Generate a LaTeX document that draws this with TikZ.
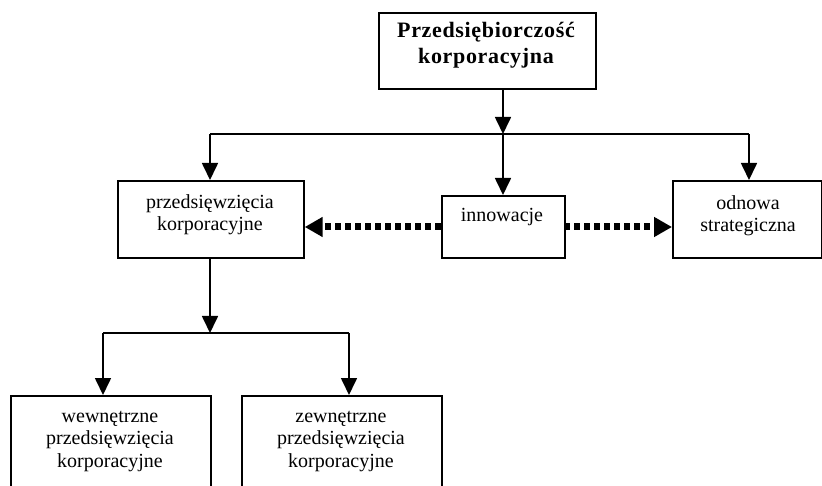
\documentclass[tikz,border=0pt]{standalone}
\usepackage{fontspec}
\setmainfont{Liberation Serif}
\usetikzlibrary{arrows.meta}
\begin{document}
\begin{tikzpicture}[x=1pt,y=-1pt,
 box/.style={draw, line width=1.7pt, inner sep=0pt, anchor=north west},
 txt/.style={font=\fontsize{20}{22.5}\selectfont, align=center, inner sep=0pt, anchor=north},
 boldtxt/.style={font=\fontsize{22}{26}\selectfont\bfseries\addfontfeature{LetterSpace=3}, align=center, inner sep=0pt, anchor=north},
 arr/.style={line width=1.7pt, -{Triangle[length=17pt,width=16pt]}},
 ln/.style={line width=1.7pt},
 dotarr/.style={line width=7pt, dash pattern=on 6pt off 4pt, -{Triangle[length=18pt,width=19pt]}}]
\useasboundingbox (0,0) rectangle (822,486);
\clip (0,0) rectangle (822,486);
% boxes
\node[box, minimum width=217pt, minimum height=76pt] (top) at (378,12) {};
\node[box, minimum width=186pt, minimum height=77pt] (pk) at (117,180) {};
\node[box, minimum width=123pt, minimum height=62pt] (inn) at (441,195) {};
\node[box, minimum width=149pt, minimum height=77pt] (odn) at (672,180) {};
\node[box, minimum width=200pt, minimum height=130pt] (wew) at (10,395) {};
\node[box, minimum width=200pt, minimum height=130pt] (zew) at (241,395) {};
% texts
\node[boldtxt] (ttop) at (486,22) {Przedsiębiorczość\\korporacyjna};
\node[txt] (tpk) at (210,194) {przedsięwzięcia\\korporacyjne};
\node[txt] (tinn) at (502,208) {innowacje};
\node[txt] (todn) at (748,195) {odnowa\\strategiczna};
\node[txt] (twew) at (110,411) {wewnętrzne\\przedsięwzięcia\\korporacyjne};
\node[txt] (tzew) at (341,411) {zewnętrzne\\przedsięwzięcia\\korporacyjne};
% junction coordinates
\coordinate (j0) at (503,134);
\coordinate (jl) at (210,134);
\coordinate (jr) at (749,134);
\coordinate (k0) at (210,333);
\coordinate (kl) at (103,333);
\coordinate (kr) at (349,333);
% connectors
\draw[arr] (top.south -| j0) -- (j0);
\draw[ln] (jl) -- (jr);
\draw[arr] (jl) -- (jl |- pk.north);
\draw[arr] (j0) -- (j0 |- inn.north);
\draw[arr] (jr) -- (jr |- odn.north);
\draw[arr] (pk.south -| k0) -- (k0);
\draw[ln] (kl) -- (kr);
\draw[arr] (kl) -- (kl |- wew.north);
\draw[arr] (kr) -- (kr |- zew.north);
\coordinate (dl) at (441,227);
\coordinate (dr) at (564,227);
\draw[dotarr] (dl) -- (dl -| pk.east);
\draw[dotarr] (dr) -- (dr -| odn.west);
\end{tikzpicture}
\end{document}
